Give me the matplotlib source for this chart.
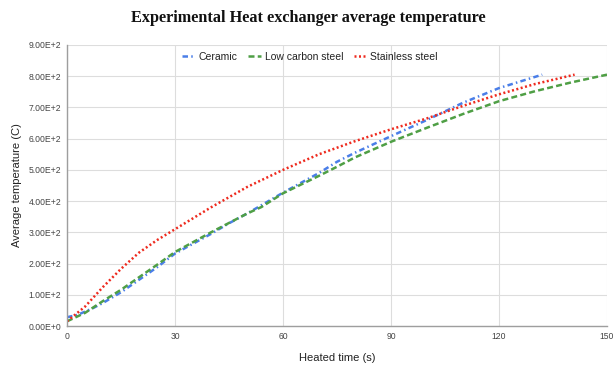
import math
import matplotlib
matplotlib.use("Agg")
import matplotlib.pyplot as plt
from matplotlib.ticker import FuncFormatter, MultipleLocator

# Data
ceramic_t = [0, 3, 7, 10, 15, 20, 25, 30, 40, 45, 50, 60, 70, 75, 80, 90, 100, 110, 120, 132]
ceramic_T = [28, 36, 56, 74, 108, 148, 188, 232, 295, 329, 360, 427, 490, 526, 555, 608, 660, 715, 762, 805]

lowc_t = [0, 5, 10, 15, 20, 25, 30, 40, 45, 50, 54, 60, 70, 75, 80, 90, 100, 110, 120, 130, 140, 150]
lowc_T = [15, 42, 80, 116, 156, 196, 237, 300, 330, 360, 381, 425, 481, 510, 540, 590, 635, 679, 720, 752, 780, 805]

ss_t = [0, 5, 10, 15, 20, 25, 30, 40, 50, 60, 70, 80, 90, 100, 110, 120, 130, 141]
ss_T = [15, 62, 125, 183, 235, 275, 310, 380, 445, 500, 550, 592, 630, 665, 705, 742, 775, 805]

xticks = [0, 30, 60, 90, 120, 150]

plt.rcParams['font.family'] = ['Liberation Sans', 'DejaVu Sans']

fig = plt.figure(figsize=(6.13, 3.65), dpi=100)
ax = fig.add_axes([67/613, 39/365, 540/613, 281/365])

ax.plot(ceramic_t, ceramic_T, color="#4a7ee8", lw=1.8, dashes=(2.2, 1.3, 0.6, 1.3), label="Ceramic")
ax.plot(lowc_t, lowc_T, color="#4f9f45", lw=1.8, dashes=(2.4, 1.3), label="Low carbon steel")
ax.plot(ss_t, ss_T, color="#ee2a1e", lw=1.8, dashes=(0.8, 1.0), label="Stainless steel")

ax.set_xlim(0, 150)
ax.set_ylim(0, 900)
ax.set_xticks(xticks)
ax.yaxis.set_major_locator(MultipleLocator(100))

def fmt(v, pos):
    if v == 0:
        return "0.00E+0"
    e = int(math.floor(math.log10(abs(v))))
    m = v / 10**e
    return f"{m:.2f}E+{e}"

ax.yaxis.set_major_formatter(FuncFormatter(fmt))
ax.grid(True, color="#dddddd", lw=0.8)
ax.set_axisbelow(True)
for s in ["top", "right"]:
    ax.spines[s].set_visible(False)
for s in ["left", "bottom"]:
    ax.spines[s].set_color("#9e9e9e")
    ax.spines[s].set_linewidth(1.0)
ax.tick_params(length=0, labelsize=6.2, labelcolor="#444444", pad=4)

ax.set_xlabel("Heated time (s)", fontsize=8, color="#222222")
ax.set_ylabel("Average temperature (C)", fontsize=8, color="#222222")
ax.xaxis.set_label_coords(0.5, (326 - 353) / 281)
ax.yaxis.set_label_coords((22 - 67) / 540, 0.5)

leg = ax.legend(loc="center", bbox_to_anchor=((310 - 67) / 540, (326 - 57) / 281), ncol=3, frameon=False,
                fontsize=7.5, handlelength=1.2, columnspacing=1.0, handletextpad=0.4,
                labelcolor="#222222")

fig.text(308/613, 1 - 18/365, "Experimental Heat exchanger average temperature", ha="center", va="center",
         fontsize=11.7, fontweight="bold", family="Liberation Serif", color="#111111")

fig.savefig("out.png", dpi=100)
